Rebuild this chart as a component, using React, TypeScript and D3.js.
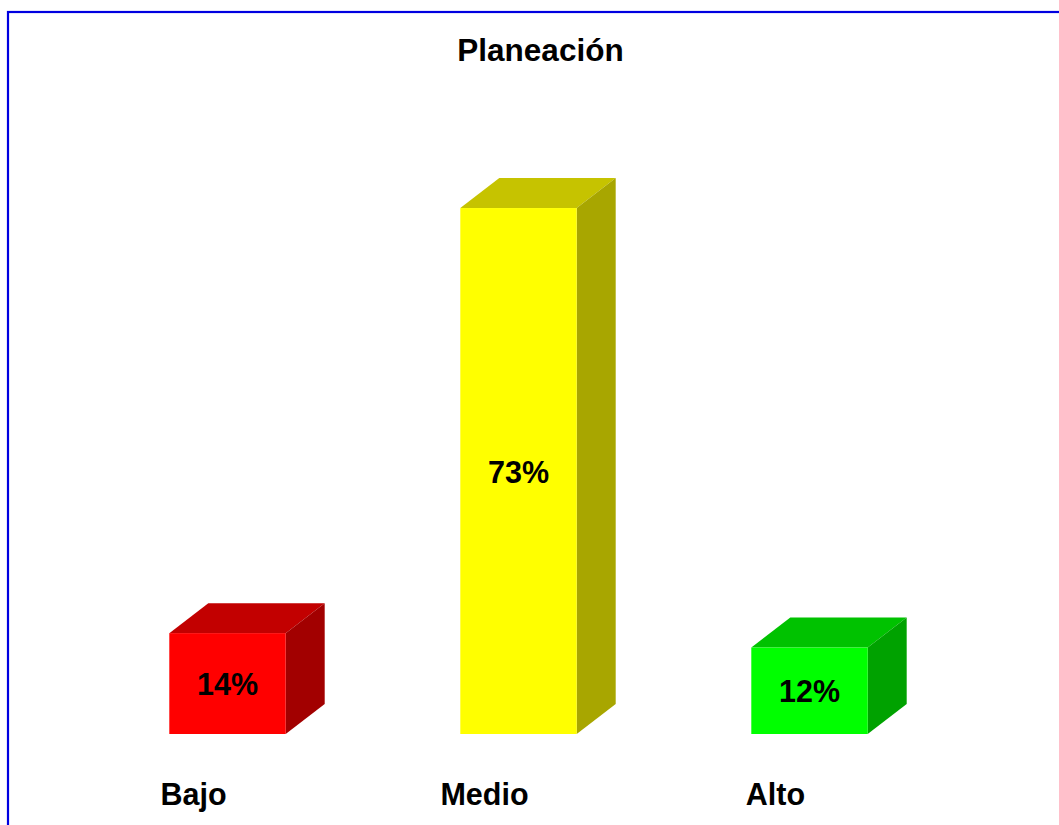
import React from "react";
import * as d3 from "d3";

const categories = ["Bajo", "Medio", "Alto"];
const values = [14, 73, 12];
const valueLabels = ["14%", "73%", "12%"];
const frontColors = ["#FF0000", "#FFFF00", "#00FF00"];
const topColors = ["#C20000", "#C6C300", "#00C200"];
const sideColors = ["#A20000", "#A8A600", "#00A200"];
const title = "Planeación";

const W = 1059;
const H = 825;
const DX = 39;
const DY = 30;
const FONT = "Arial, 'Liberation Sans', Helvetica, sans-serif";

export default function App() {
  const x = d3
    .scaleBand<string>()
    .domain(categories)
    .range([82, 955])
    .paddingInner(0.6)
    .paddingOuter(0.3);
  const y = d3.scaleLinear().domain([0, 100]).range([734, 13.5]);
  const bw = x.bandwidth();

  return (
    <svg
      width={W}
      height={H}
      style={{ position: "absolute", left: 0, top: 0, background: "#fff" }}
      fontFamily={FONT}
    >
      <rect x={8} y={12} width={1200} height={1000} fill="none" stroke="#0000E0" strokeWidth={2.2} />
      <text x={540.5} y={61} textAnchor="middle" fontSize={31.5} fontWeight="bold" fill="#000">
        {title}
      </text>
      {categories.map((c, i) => {
        const x0 = x(c)!;
        const x1 = x0 + bw;
        const yt = y(values[i]);
        const yb = y(0);
        const top = `M${x0},${yt} L${x0 + DX},${yt - DY} L${x1 + DX},${yt - DY} L${x1},${yt} Z`;
        const side = `M${x1},${yt} L${x1 + DX},${yt - DY} L${x1 + DX},${yb - DY} L${x1},${yb} Z`;
        return (
          <g key={c}>
            <path d={top} fill={topColors[i]} />
            <path d={side} fill={sideColors[i]} />
            <rect x={x0} y={yt} width={bw} height={yb - yt} fill={frontColors[i]} />
            <text
              x={x0 + bw / 2}
              y={(yt + yb) / 2}
              dy="0.38em"
              textAnchor="middle"
              fontSize={30.5}
              fontWeight="bold"
              fill="#000"
            >
              {valueLabels[i]}
            </text>
            <text
              x={x0 + bw / 2 - 34}
              y={805}
              textAnchor="middle"
              fontSize={30.5}
              fontWeight="bold"
              fill="#000"
            >
              {c}
            </text>
          </g>
        );
      })}
    </svg>
  );
}
